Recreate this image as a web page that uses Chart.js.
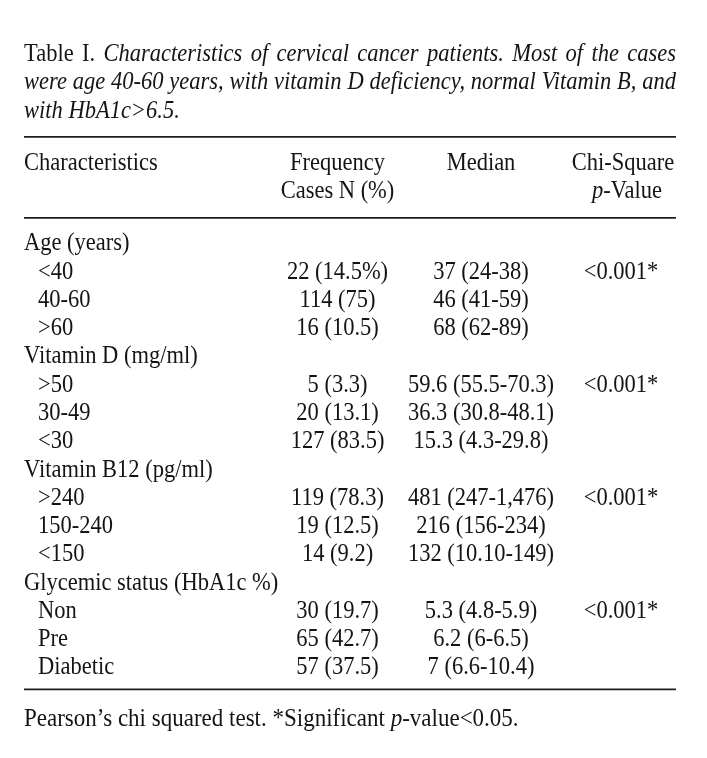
<!DOCTYPE html>
<html><head><meta charset="utf-8">
<script src="https://cdn.jsdelivr.net/npm/chart.js@4.4.1/dist/chart.umd.min.js"></script>
<style>
html,body{margin:0;padding:0;background:#fff;}
#wrap{position:relative;width:707px;height:758px;overflow:hidden;font-family:"Liberation Serif","Times New Roman",serif;color:#141414;}
.sx{position:absolute;left:24px;transform:scaleX(0.9);transform-origin:0 0;font-size:25px;line-height:28.5px;}
#cap{top:38.5px;width:724.4px;}
.ln{display:block;white-space:nowrap;}
#foot{top:703.6px;white-space:nowrap;transform:scaleX(0.92);}
canvas{position:absolute;left:0;top:0;}
</style></head>
<body><div id="wrap">
<canvas id="c" width="707" height="758"></canvas>
<div id="cap" class="sx"><span class="ln j"><span class="in">Table I. <i>Characteristics of cervical cancer patients. Most of the cases</i></span></span><span class="ln j"><span class="in"><i>were age 40-60 years, with vitamin D deficiency, normal Vitamin B, and</i></span></span><span class="ln"><span class="in"><i>with HbA1c&gt;6.5.</i></span></span></div>
<div id="foot" class="sx">Pearson’s chi squared test. *Significant <i>p</i>-value&lt;0.05.</div>
</div>
<script>
// ---- data ----
const rowLabels = ["Age (years)","<40","40-60",">60","Vitamin D (mg/ml)",">50","30-49","<30","Vitamin B12 (pg/ml)",">240","150-240","<150","Glycemic status (HbA1c %)","Non","Pre","Diabetic"];
const rowIsSub = [false,true,true,true,false,true,true,true,false,true,true,true,false,true,true,true];
const frequency = ["","22 (14.5%)","114 (75)","16 (10.5)","","5 (3.3)","20 (13.1)","127 (83.5)","","119 (78.3)","19 (12.5)","14 (9.2)","","30 (19.7)","65 (42.7)","57 (37.5)"];
const median = ["","37 (24-38)","46 (41-59)","68 (62-89)","","59.6 (55.5-70.3)","36.3 (30.8-48.1)","15.3 (4.3-29.8)","","481 (247-1,476)","216 (156-234)","132 (10.10-149)","","5.3 (4.8-5.9)","6.2 (6-6.5)","7 (6.6-10.4)"];
const pValue = ["","<0.001*","","","","<0.001*","","","","<0.001*","","","","<0.001*","",""];
const headerLine1 = ["Characteristics","Frequency","Median","Chi-Square"];
const headerLine2 = ["","Cases N (%)","",""];

// ---- caption justification ----
const SCALE_X = 0.9;
document.querySelectorAll('.ln.j').forEach(function(ln){
  const inner = ln.querySelector('.in');
  const w = inner.getBoundingClientRect().width / SCALE_X;
  const spaces = (inner.textContent.match(/ /g)||[]).length;
  ln.style.wordSpacing = ((652/SCALE_X - w)/spaces) + 'px';
});

// ---- layout (styles) ----
const FONT = '25px "Liberation Serif", "Times New Roman", serif';
const IFONT = 'italic 25px "Liberation Serif", "Times New Roman", serif';
const TEXT = '#141414';
const colAnchor = {label:0, indent:14, freq:313.5, median:457, p:597};

function txt(ctx, s, px, py, align, font){
  ctx.save();
  ctx.translate(px, py);
  ctx.scale(SCALE_X, 1);
  ctx.font = font || FONT;
  ctx.textAlign = align;
  ctx.fillText(s, 0, 0);
  ctx.restore();
}

const tablePlugin = {
  id:'tableText',
  afterDraw(chart){
    const ctx = chart.ctx, x = chart.scales.x, y = chart.scales.y, a = chart.chartArea;
    ctx.save();
    ctx.fillStyle = TEXT;
    ctx.textBaseline = 'alphabetic';
    const B = 8.3;
    // rules
    ctx.strokeStyle = '#1e1e1e'; ctx.lineWidth = 1.8;
    [a.top - 91, a.top - 10, a.bottom + 9].forEach(function(yy){
      ctx.beginPath(); ctx.moveTo(a.left, yy); ctx.lineTo(a.right, yy); ctx.stroke();
    });
    // headers
    const h1 = a.top - 66 + B, h2 = a.top - 38 + B;
    txt(ctx, headerLine1[0], x.getPixelForValue(colAnchor.label), h1, 'left');
    txt(ctx, headerLine1[1], x.getPixelForValue(colAnchor.freq), h1, 'center');
    txt(ctx, headerLine2[1], x.getPixelForValue(colAnchor.freq), h2, 'center');
    txt(ctx, headerLine1[2], x.getPixelForValue(colAnchor.median), h1, 'center');
    txt(ctx, headerLine1[3], x.getPixelForValue(colAnchor.p) + 2, h1, 'center');
    // p-Value (italic p)
    ctx.font = IFONT; const wp = ctx.measureText('p').width * SCALE_X;
    ctx.font = FONT; const wr = ctx.measureText('-Value').width * SCALE_X;
    const cx = x.getPixelForValue(colAnchor.p) + 6;
    const sx = cx - (wp + wr)/2;
    txt(ctx, 'p', sx, h2, 'left', IFONT);
    txt(ctx, '-Value', sx + wp, h2, 'left', FONT);
    // body
    rowLabels.forEach(function(lbl, i){
      const yy = y.getPixelForValue(i) + B;
      txt(ctx, lbl, x.getPixelForValue(rowIsSub[i] ? colAnchor.indent : colAnchor.label), yy, 'left');
      if (frequency[i]) txt(ctx, frequency[i], x.getPixelForValue(colAnchor.freq), yy, 'center');
      if (median[i]) txt(ctx, median[i], x.getPixelForValue(colAnchor.median), yy, 'center');
      if (pValue[i]) txt(ctx, pValue[i], x.getPixelForValue(colAnchor.p), yy, 'center');
    });
    ctx.restore();
  }
};

new Chart(document.getElementById('c'), {
  type:'scatter',
  data:{ labels: rowLabels, datasets:[] },
  options:{
    responsive:false, animation:false,
    layout:{ padding:{ left:24, right:31, top:227.85, bottom:77.7 } },
    plugins:{ legend:{display:false}, tooltip:{enabled:false}, title:{display:false} },
    scales:{
      x:{ type:'linear', min:0, max:652, display:false },
      y:{ type:'category', labels: rowLabels, offset:true, display:false }
    }
  },
  plugins:[tablePlugin]
});
</script>
</body></html>
